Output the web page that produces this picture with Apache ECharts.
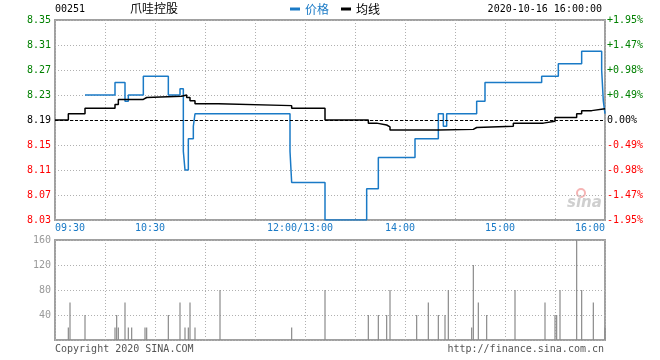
<!DOCTYPE html>
<html><head><meta charset="utf-8">
<script src="https://cdn.jsdelivr.net/npm/echarts@6/dist/echarts.min.js"></script>
<style>html,body{margin:0;padding:0;background:#fff}#c{width:660px;height:360px}</style>
</head><body><div id="c"></div>
<script>
// ---- data (minutes since 09:30, trading time only; 12:00 and 13:00 share minute 150) ----
const prevClose = 8.19;
const priceMinutes = [18,36,42,44,53,68,75,77,78,80,83,84,141,142,162,187,194,216,230,233,235,253,258,292,302,316,328,329,330];
const priceValues  = [8.23,8.25,8.22,8.23,8.26,8.23,8.24,8.14,8.11,8.16,8.18,8.20,8.14,8.09,8.03,8.08,8.13,8.16,8.20,8.18,8.20,8.22,8.25,8.26,8.28,8.30,8.27,8.22,8.20];
const avgMinutes = [0,8,18,36,38,53,55,76,79,81,84,98,142,162,188,193,199,201,230,251,253,275,293,300,313,316,322,330];
const avgValues  = [8.19,8.200,8.209,8.215,8.223,8.226,8.228,8.230,8.226,8.221,8.216,8.213,8.209,8.190,8.185,8.182,8.179,8.174,8.175,8.178,8.180,8.185,8.188,8.194,8.200,8.205,8.208,8.208];
const volMinutes = [8,9,18,36,37,38,42,44,46,54,55,68,75,78,80,81,84,99,142,162,188,194,199,201,217,224,230,234,236,250,251,254,259,276,294,300,301,303,313,316,323,330];
const volValues  = [20,60,40,20,40,20,60,20,20,20,20,40,60,20,20,60,20,80,20,80,40,40,40,80,40,60,40,40,80,20,120,60,40,80,60,40,40,80,160,80,60,20];
const timeTicks  = [0,60,150,210,270,330];
const timeLabels = ['09:30','10:30','12:00/13:00','14:00','15:00','16:00'];
const priceMin = 8.03, priceMax = 8.35, priceStep = 0.04;
const volMax = 160, volStep = 40;

const BLUE = '#1a7ac6', GREEN = '#008000', RED = '#ff0000', GRID = '#b0b0b0', BORDER = '#a0a0a0';
const MONO = 'DejaVu Sans Mono';
const CJK = 'Noto Sans CJK SC';

const pair = (xs, ys) => xs.map((x, i) => [x, ys[i]]);
const dotted = {show: true, lineStyle: {color: GRID, type: [1, 2], width: 1}};
const priceColor = v => Math.abs(v - prevClose) < 1e-6 ? '#000' : (v > prevClose ? GREEN : RED);

const chart = echarts.init(document.getElementById('c'), null, {renderer: 'canvas'});
chart.setOption({
  animation: false,
  backgroundColor: '#fff',
  grid: [
    {left: 55, right: 55, top: 20, height: 200, show: true, borderColor: BORDER, borderWidth: 2, backgroundColor: 'transparent'},
    {left: 55, right: 55, top: 240, height: 100, show: true, borderColor: BORDER, borderWidth: 2, backgroundColor: 'transparent'}
  ],
  legend: {
    data: [
      {name: '价格', itemStyle: {color: BLUE}, textStyle: {color: BLUE}},
      {name: '均线', itemStyle: {color: '#000'}, textStyle: {color: '#000'}}
    ],
    left: 285, top: -2, icon: 'rect', itemWidth: 10, itemHeight: 3, itemGap: 12,
    textStyle: {fontFamily: CJK, fontSize: 12, lineHeight: 12}
  },
  xAxis: [
    {type: 'value', gridIndex: 0, min: 0, max: 330, interval: 30,
     axisLine: {show: false}, axisTick: {show: false}, splitLine: dotted,
     axisLabel: {
       show: true, margin: 3, fontFamily: MONO, fontSize: 10, color: BLUE,
       alignMinLabel: 'left', alignMaxLabel: 'right',
       formatter: v => {
         const i = timeTicks.indexOf(v);
         if (i < 0) return '';
         if (i === 0 || i === timeTicks.length - 1) return timeLabels[i];
         return '{c|' + timeLabels[i] + '}';
       },
       rich: {c: {fontFamily: MONO, fontSize: 10, color: BLUE, padding: [0, 10, 0, 0]}}
     }},
    {type: 'value', gridIndex: 1, min: 0, max: 330, interval: 30,
     axisLine: {show: false}, axisTick: {show: false}, axisLabel: {show: false}, splitLine: dotted}
  ],
  yAxis: [
    {type: 'value', gridIndex: 0, min: priceMin, max: priceMax, interval: priceStep, position: 'left',
     axisLine: {show: false}, axisTick: {show: false}, splitLine: dotted,
     axisLabel: {margin: 4, fontFamily: MONO, fontSize: 10, color: priceColor, padding: [0, 0, 5, 0],
       formatter: v => v.toFixed(2)}},
    {type: 'value', gridIndex: 0, min: priceMin, max: priceMax, interval: priceStep, position: 'right',
     axisLine: {show: false}, axisTick: {show: false}, splitLine: {show: false},
     axisLabel: {margin: 2, fontFamily: MONO, fontSize: 10, color: priceColor, padding: [0, 0, 5, 0],
       formatter: v => {
         const p = (v - prevClose) / prevClose * 100;
         if (Math.abs(p) < 1e-6) return '0.00%';
         return (p > 0 ? '+' : '') + p.toFixed(2) + '%';
       }}},
    {type: 'value', gridIndex: 1, min: 0, max: volMax, interval: volStep, position: 'left',
     axisLine: {show: false}, axisTick: {show: false}, splitLine: dotted,
     axisLabel: {margin: 4, fontFamily: MONO, fontSize: 10, color: '#999', showMinLabel: false, padding: [0, 0, 5, 0]}}
  ],
  series: [
    {name: '价格', type: 'line', xAxisIndex: 0, yAxisIndex: 0, step: 'end', showSymbol: false, z: 3,
     lineStyle: {color: BLUE, width: 1.5}, itemStyle: {color: BLUE},
     data: pair(priceMinutes, priceValues)},
    {name: '均线', type: 'line', xAxisIndex: 0, yAxisIndex: 0, step: 'end', showSymbol: false, z: 4,
     lineStyle: {color: '#000', width: 1.5}, itemStyle: {color: '#000'},
     data: pair(avgMinutes, avgValues),
     markLine: {silent: true, symbol: 'none', label: {show: false},
       lineStyle: {color: '#000', type: [3, 2], width: 1},
       data: [{yAxis: prevClose}]}},
    {name: '成交量', type: 'bar', xAxisIndex: 1, yAxisIndex: 2, barWidth: 1.2, z: 2,
     itemStyle: {color: '#8a8a8a'}, data: pair(volMinutes, volValues)}
  ],
  graphic: [
    {type: 'text', left: 55, top: 4, style: {text: '00251', font: '10px "' + MONO + '"', fill: '#000'}},
    {type: 'text', left: 130, top: 2, style: {text: '爪哇控股', font: '12px "' + CJK + '"', fill: '#000'}},
    {type: 'text', right: 58, top: 4, style: {text: '2020-10-16 16:00:00', font: '10px "' + MONO + '"', fill: '#000'}},
    {type: 'text', left: 55, top: 344, style: {text: 'Copyright 2020 SINA.COM', font: '10px "' + MONO + '"', fill: '#555'}},
    {type: 'text', right: 56, top: 344, style: {text: 'http://finance.sina.com.cn', font: '10px "' + MONO + '"', fill: '#555'}},
    {type: 'circle', shape: {cx: 581, cy: 193, r: 4}, style: {fill: 'none', stroke: '#f6b4b4', lineWidth: 2}},
    {type: 'text', left: 567, top: 196, style: {text: 'sina', font: 'italic bold 15px "DejaVu Sans"', fill: '#cfcfcf'}}
  ]
});
</script>
</body></html>
